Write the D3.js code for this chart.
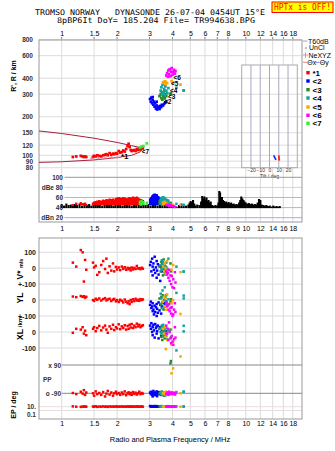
<!DOCTYPE html>
<html><head><meta charset="utf-8">
<script src="https://cdn.jsdelivr.net/npm/d3@7"></script>
<style>
body{margin:0;background:#fff}
svg{display:block}
text{font-family:"Liberation Sans",Arial,sans-serif}
.mono{font-family:"DejaVu Sans Mono","Liberation Mono",monospace}
</style>
</head><body><svg id="c" width="335" height="451"></svg>
<script>
// ---------------- data ----------------
const freqTicksTop = [1,1.5,2,3,4,5,6,7,8,10,12,14,16,18];
const freqTicksMid = [1,1.5,2,3,4,5,6,7,8,9,10,12,14,16,18];
const freqGrid = [1,1.5,2,3,4,5,6,7,8,10,12,14,16,18];
const rangeTicks = [80,90,100,120,150,200,300,400,600,800];
const dbTicks = [20,40,60,80,100];
const dbLabels = ["dBn 20","40","60","dBe 80","100"];
const vTicks = [100,0,-100];
const vLabels = ["100","0","+-100"];
const ylTicks = [0,-100];
const ylLabels = ["0","+-100"];
const xlTicks = [0,-100];
const xlLabels = ["0","-100"];
const ppTicks = [90,-90];
const ppLabels = ["x 90","o -90"];
const epTicks = [10,0.1];
const epLabels = ["10.","0.1"];
const tiltTicks = [-20,-10,0,10,20];
const traceNames = ["*1","<2","<3","<4","<5","<6","<7"];
const traceColors = ["#ff0000","#0000ff","#268a26","#14a3a3","#ffa500","#ff00ff","#33ee33"];

// echo rows: [freq MHz, R' km, amplitude dBe, V* m/s, YL km, XL km, PP deg, EP deg]
const trace1 = [
 [1.15,97,47,35,22,-5,-88,12],[1.20,98,50,10,18,20,-95,10],[1.27,99,51,114,25,15,-80,9],
 [1.30,98,49,100,20,30,-92,11],[1.32,97,48,-84,24,-10,-70,10],[1.34,98,50,52,15,8,-100,12],
 [1.36,97,47,-10,20,-20,-85,10],[1.48,97,50,35,0,20,-90,11],[1.50,99,52,5,-5,30,-105,10],
 [1.53,98,53,15,8,5,-78,13],[1.56,100,54,-42,2,25,-95,9],[1.60,99,55,-25,10,38,-88,11],
 [1.64,98,54,20,-3,10,-100,10],[1.68,100,56,45,6,28,-82,12],[1.72,101,55,-5,12,40,-110,10],
 [1.75,102,57,60,-2,15,-92,11],[1.78,100,56,-30,4,-5,-75,9],[1.82,104,58,12,8,35,-98,12],
 [1.86,101,57,-15,-6,20,-85,10],[1.90,103,58,30,3,45,-105,11],[1.93,102,56,-20,7,12,-90,10],
 [1.97,104,59,8,-8,30,-80,12],[2.00,103,60,-8,0,22,-95,10],[2.04,108,61,5,-12,48,-88,11],
 [2.08,105,60,-12,2,18,-100,10],[2.12,106,59,10,-5,35,-85,12],[2.16,109,61,-4,-15,25,-95,10],
 [2.20,107,60,6,3,42,-78,11],[2.24,112,59,-10,-10,15,-102,10],[2.28,118,58,2,-20,38,-90,12],
 [2.31,123,60,-6,-8,20,-84,10],[2.34,116,61,0,-25,45,-96,11],[2.37,110,59,-14,0,28,-88,10],
 [2.40,108,60,4,-12,50,-100,12],[2.44,109,62,-8,5,25,-82,10],[2.48,110,61,2,-6,40,-94,11],
 [2.52,108,60,-5,8,30,-86,10],[2.56,112,62,14,-3,52,-98,12],[2.60,110,60,-2,2,35,-90,10],
 [2.64,113,58,0,-5,45,-80,11],[2.68,111,57,-6,6,30,-95,10],[2.72,114,56,3,0,38,-88,12],
 [2.76,113,55,-3,4,42,-92,10]
];
const trace2 = [
 [3.02,275,58,20,-30,40,-85,15],[3.05,262,60,40,-10,20,-95,12],[3.07,282,61,-20,-50,55,-80,10],
 [3.10,255,63,60,-40,0,-100,14],[3.12,270,65,10,-70,30,-90,11],[3.12,285,62,-45,-20,-20,-110,13],
 [3.15,248,66,30,-60,45,-75,10],[3.17,262,67,-10,-90,10,-95,12],[3.20,240,68,72,-35,-35,-88,15],
 [3.22,255,66,-30,-75,50,-102,10],[3.25,232,65,5,-45,25,-85,12],[3.28,245,67,-60,-100,-10,-95,11],
 [3.28,262,64,45,-25,35,-78,14],[3.30,228,64,-15,-55,5,-108,10],[3.33,240,63,25,-80,40,-90,12],
 [3.36,235,62,-40,-15,-40,-82,11],[3.40,230,60,15,-65,20,-96,13],[3.43,243,59,-80,-30,30,-88,10],
 [3.47,238,58,8,-85,-25,-100,12],[3.50,248,56,-20,-40,15,-92,11],[3.55,245,55,35,-50,0,-86,10],
 [3.60,252,53,-5,-20,10,-94,12],[3.65,258,52,12,-35,-15,-90,11],[3.70,262,50,-25,-10,5,-88,10]
];
const trace3 = [
 [3.40,290,55,10,10,20,-90,12],[3.45,300,57,-20,-30,0,-85,10],[3.48,280,58,40,20,-30,-95,14],
 [3.50,310,56,0,-50,40,-80,11],[3.52,272,57,25,-15,-50,-100,12],[3.55,295,58,-45,30,10,-90,10],
 [3.58,285,56,55,-60,-20,-88,13],[3.60,315,55,-10,0,30,-105,10],[3.63,278,54,15,-40,-40,-92,12],
 [3.66,300,53,-30,15,5,-84,11],[3.70,290,52,5,-20,-25,-96,10],[3.90,300,52,30,-10,15,100,12],
 [3.92,305,51,-20,5,-35,115,10]
];
const trace4 = [
 [3.45,320,58,20,40,20,-88,12],[3.48,340,60,-10,10,-10,-95,10],[3.50,300,62,50,-20,30,-80,14],
 [3.53,355,61,0,60,0,-100,11],[3.56,310,63,30,-50,45,-90,13],[3.60,330,62,-25,20,-30,-85,10],
 [3.63,295,60,15,80,15,-92,12],[3.66,345,59,-40,-5,-20,-104,11],[3.70,320,58,35,30,25,-86,10],
 [3.75,305,57,-5,-35,-45,-96,12],[3.80,335,56,60,5,10,-90,11],[4.20,337,50,10,45,-115,-82,12],
 [4.60,321,48,-21,28,39,-80,12],[4.60,321,47,-21,10,4,-80,10]
];
const trace5 = [
 [3.55,372,52,10,-10,20,-90,10],[3.60,368,53,-20,20,-10,-85,12],[3.63,378,54,30,-40,30,-95,11],
 [3.66,362,52,0,10,-30,-80,13],[3.68,375,51,-35,-60,-107,-100,10],[3.74,366,50,45,35,-50,-88,12],
 [3.95,380,49,-10,-20,-80,37,11],[4.03,370,48,20,0,-60,69,10],[4.42,356,47,-25,-87,-153,-90,10]
];
const trace6 = [
 [3.70,420,47,-20,-20,40,-95,12],[3.74,440,48,-40,-40,-10,-85,10],[3.78,410,46,-30,-30,20,-90,14],
 [3.80,460,47,-60,-60,-50,-100,11],[3.83,430,48,-10,-25,60,-80,12],[3.86,470,45,-80,-70,0,-92,10],
 [3.90,415,46,-45,-50,-40,-88,13],[3.93,450,47,-100,-85,-70,-96,11],[3.96,480,45,-50,-45,-25,-84,10],
 [4.00,425,44,-120,-100,-60,-90,12],[4.04,445,45,-70,-90,-80,-94,11],[4.08,465,44,-125,-60,-45,-86,10],
 [4.12,435,43,-25,-20,30,-98,12],[4.15,455,43,-90,-75,-35,-90,11]
];
const trace7 = [
 [2.66,115,54,null,null,null,null,null],[2.72,117,55,null,null,null,null,null],
 [2.78,118,53,null,null,null,null,null],[2.90,124,52,null,null,null,null,null]
];
const traces = [trace1,trace2,trace3,trace4,trace5,trace6,trace7];

// noise / background amplitude [freq, dB]
const noise = [
 [1.00,47],[1.03,44],[1.06,48],[1.09,45],[1.12,46],[1.15,44],[1.18,47],[1.21,45],[1.25,48],[1.29,44],
 [1.33,46],[1.37,45],[1.41,47],[1.45,44],[1.49,46],[1.53,48],[1.57,45],[1.61,47],[1.66,44],[1.71,46],
 [1.76,48],[1.81,45],[1.86,47],[1.91,44],[1.96,46],[2.02,45],[2.08,47],[2.14,44],[2.20,46],[2.26,48],
 [2.33,45],[2.40,44],[2.47,46],[2.54,45],[2.62,47],[2.70,44],[2.78,46],[2.86,45],[2.95,47],[3.04,44],
 [3.13,46],[3.22,45],[3.32,44],[3.42,46],[3.52,44],[3.63,45],[3.74,43],[3.85,45],[3.97,43],[4.09,44],
 [4.21,42],[4.34,45],[4.47,48],[4.60,43],[4.74,44],[4.88,46],[4.95,50],[5.02,53],[5.10,51],[5.17,55],
 [5.25,48],[5.33,44],[5.45,46],[5.60,45],[5.72,52],[5.80,63],[5.88,58],[5.96,62],[6.04,56],[6.12,60],
 [6.20,53],[6.28,55],[6.36,50],[6.45,52],[6.55,45],[6.70,44],[6.85,45],[7.00,44],[7.10,50],[7.18,73],
 [7.25,70],[7.33,58],[7.42,61],[7.52,55],[7.62,53],[7.72,50],[7.83,52],[7.95,49],[8.07,51],[8.20,48],
 [8.33,50],[8.47,47],[8.60,48],[8.75,46],[8.90,47],[9.05,46],[9.20,50],[9.33,55],[9.45,62],[9.58,58],
 [9.72,55],[9.85,52],[10.0,50],[10.2,48],[10.4,49],[10.6,47],[10.8,48],[11.0,46],[11.2,47],[11.4,46],
 [11.6,50],[11.8,57],[12.0,55],[12.2,46],[12.45,45],[12.7,44],[12.95,45],[13.2,43],[13.5,44],[13.8,42],
 [14.1,44],[14.4,42],[14.7,43],[15.0,42],[15.3,43]
];
const noiseFloor = 39;

// model profile curves [freq, R']
const curveUpper = [[0.753,155],[1.0,148],[1.5,136],[2.0,126],[2.4,119],[2.66,115]];
const curveLower = [[0.753,88],[1.0,89],[1.5,92],[2.0,96],[2.4,100],[2.66,106],[2.78,116]];
// NeXYZ marks
const neXYZ = [[1.45,95],[1.58,95],[1.72,95.5],[1.86,96],[2.0,96.5]];
// tilt arrows [tilt deg, R' km]
const thetaX = [[10,100],[10.6,91]];
const thetaY = [[4.5,100],[7,92]];
// trace labels [text, freq, R']
const traceLabels = [["*1",2.1,97.5],["<7",2.72,108],["<2",3.59,262],["<3",3.78,290],["<4",3.88,320],["<5",3.92,366],["<6",4.05,407]];

// ---------------- layout ----------------
const svg = d3.select("#c");
const L = 39, Rt = 302;
const fx = d3.scaleLog().domain([0.753, 20.2]).range([L, Rt]);
const ry = d3.scaleLog().domain([100, 800]).range([155.3, 39.7]);
const dy = d3.scaleLinear().domain([20, 100]).range([217.7, 177.3]);
const vy = d3.scaleLinear().domain([-100, 100]).range([284.1, 252.3]);
const yly = d3.scaleLinear().domain([-100, 100]).range([316, 284.1]);
const xly = d3.scaleLinear().domain([-100, 100]).range([348, 316]);
const ppy = d3.scaleLinear().domain([-90, 90]).range([393.3, 365]);
const epy = d3.scaleLog().domain([0.1, 10]).range([414.3, 406.7]);
const tx = d3.scaleLinear().domain([-30, 30]).range([241.7, 297.3]);

const grid = svg.append("g");
const GRID = "#dcdcdc";
freqGrid.forEach(f => {
  grid.append("line").attr("x1", fx(f)).attr("x2", fx(f)).attr("y1", 37).attr("y2", 177).attr("stroke", GRID);
  grid.append("line").attr("x1", fx(f)).attr("x2", fx(f)).attr("y1", 177).attr("y2", 222).attr("stroke", GRID);
  grid.append("line").attr("x1", fx(f)).attr("x2", fx(f)).attr("y1", 238).attr("y2", 419).attr("stroke", GRID);
  grid.append("line").attr("x1", fx(f)).attr("x2", fx(f)).attr("y1", 37).attr("y2", 40).attr("stroke", "#888");
});
svg.append("rect").attr("x", tx(-30)).attr("y", 65).attr("width", tx(30) - tx(-30)).attr("height", 102.7).attr("fill", "#fff");
rangeTicks.forEach(r => {
  svg.append("line").attr("x1", L).attr("x2", Rt).attr("y1", ry(r)).attr("y2", ry(r)).attr("stroke", GRID);
});
tiltTicks.forEach(t => {
  svg.append("line").attr("x1", tx(t)).attr("x2", tx(t)).attr("y1", 65).attr("y2", 167.7).attr("stroke", "#a8a8c4");
});
svg.append("rect").attr("x", tx(-30)).attr("y", 65).attr("width", tx(30) - tx(-30)).attr("height", 102.7)
  .attr("fill", "none").attr("stroke", "#aaa");
const tAxis = svg.append("g").attr("transform", "translate(0,167.7)")
  .call(d3.axisBottom(tx).tickValues(tiltTicks).tickSize(0).tickPadding(0.8));
tAxis.select(".domain").remove();
tAxis.selectAll("text").attr("font-size", 5).attr("fill", "#333");
svg.append("text").attr("x", tx(0)).attr("y", 177.8).attr("text-anchor", "middle").attr("font-size", 5).attr("fill", "#333").text("Tilt / deg");

const dbCol = {20:"#aaaaee",40:"#b8b8b8",60:"#b8b8b8",80:"#d4d4d4",100:"#999"};
dbTicks.forEach(d => {
  svg.append("line").attr("x1", 64.5).attr("x2", Rt).attr("y1", dy(d)).attr("y2", dy(d)).attr("stroke", dbCol[d]);
});
vTicks.forEach(v => svg.append("line").attr("x1", L).attr("x2", Rt).attr("y1", vy(v)).attr("y2", vy(v)).attr("stroke", GRID));
ylTicks.forEach(v => svg.append("line").attr("x1", L).attr("x2", Rt).attr("y1", yly(v)).attr("y2", yly(v)).attr("stroke", GRID));
xlTicks.forEach(v => svg.append("line").attr("x1", L).attr("x2", Rt).attr("y1", xly(v)).attr("y2", xly(v)).attr("stroke", GRID));
ppTicks.forEach(v => svg.append("line").attr("x1", 62).attr("x2", Rt).attr("y1", ppy(v)).attr("y2", ppy(v)).attr("stroke", "#888"));
[10,1].forEach(v => svg.append("line").attr("x1", L).attr("x2", Rt).attr("y1", epy(v)).attr("y2", epy(v)).attr("stroke", "#e6dede"));

svg.append("rect").attr("x", L).attr("y", 40).attr("width", Rt - L).attr("height", 182).attr("fill", "none").attr("stroke", "#999");
svg.append("rect").attr("x", L).attr("y", 238).attr("width", Rt - L).attr("height", 181).attr("fill", "none").attr("stroke", "#999");

// ---------- top panel content ----------
const line = d3.line().x(d => fx(d[0])).y(d => ry(d[1]));
svg.append("path").attr("d", line(curveUpper)).attr("fill", "none").attr("stroke", "#a8203c").attr("stroke-width", 1);
svg.append("path").attr("d", line(curveLower)).attr("fill", "none").attr("stroke", "#a8203c").attr("stroke-width", 1);

const S = 2.7;
traces.forEach((tr, i) => {
  const g = svg.append("g").attr("fill", traceColors[i]);
  tr.forEach(e => {
    g.append("rect").attr("x", fx(e[0]) - S/2).attr("y", ry(e[1]) - S/2).attr("width", S).attr("height", S);
  });
});
const nx = svg.append("g").attr("stroke", "#e880a8").attr("stroke-width", 0.9);
neXYZ.forEach(p => {
  const x = fx(p[0]), y = ry(p[1]);
  nx.append("line").attr("x1", x - 1.6).attr("x2", x + 1.6).attr("y1", y).attr("y2", y);
  nx.append("line").attr("x1", x).attr("x2", x).attr("y1", y - 1.6).attr("y2", y + 1.6);
});
traceLabels.forEach(t => {
  svg.append("text").attr("x", fx(t[1])).attr("y", ry(t[2]) + 2.5).attr("font-size", t[0] === "*1" ? 8 : 6.5)
    .attr("font-weight", "bold").attr("fill", "#000").text(t[0]);
});
const tl = d3.line().x(d => tx(d[0])).y(d => ry(d[1]));
svg.append("path").attr("d", tl(thetaY)).attr("stroke", "#2030ff").attr("stroke-width", 1.8).attr("fill", "none");
svg.append("path").attr("d", tl(thetaX)).attr("stroke", "#ff2020").attr("stroke-width", 1.8).attr("fill", "none");

// ---------- dBe panel ----------
const nz = svg.append("g").attr("stroke", "#000").attr("stroke-width", 2.1);
noise.forEach(n => {
  nz.append("line").attr("x1", fx(n[0])).attr("x2", fx(n[0])).attr("y1", dy(noiseFloor)).attr("y2", dy(n[1]));
});
traces.forEach((tr, i) => {
  const g = svg.append("g").attr("fill", traceColors[i]);
  tr.forEach(e => {
    g.append("rect").attr("x", fx(e[0]) - 1.2).attr("y", dy(e[2])).attr("width", 2.4).attr("height", Math.max(dy(45) - dy(e[2]), 2));
  });
});

// ---------- lower panel ----------
const s2 = 2.5;
const lowScales = [[3, vy],[4, yly],[5, xly],[6, ppy],[7, epy]];
traces.forEach((tr, i) => {
  const g = svg.append("g").attr("fill", traceColors[i]);
  tr.forEach(e => {
    lowScales.forEach(([k, sc]) => {
      if (e[k] === null) return;
      g.append("rect").attr("x", fx(e[0]) - s2/2).attr("y", sc(e[k]) - s2/2).attr("width", s2).attr("height", s2);
    });
  });
});

// ---------- axes ----------
function styleAxis(g, size, fill, weight) {
  g.select(".domain").remove();
  g.selectAll("line").remove();
  g.selectAll("text").attr("font-size", size).attr("fill", fill).attr("font-weight", weight || "normal")
    .attr("font-family", "Liberation Sans, Arial, sans-serif");
}
const fmt = d => String(d);
styleAxis(svg.append("g").attr("transform", "translate(0,40)")
  .call(d3.axisTop(fx).tickValues(freqTicksTop).tickFormat(fmt).tickSize(0).tickPadding(4)), 7, "#000");
styleAxis(svg.append("g").attr("transform", "translate(0,222)")
  .call(d3.axisBottom(fx).tickValues(freqTicksMid).tickFormat(fmt).tickSize(0).tickPadding(4)), 7, "#000");
styleAxis(svg.append("g").attr("transform", "translate(0,419)")
  .call(d3.axisBottom(fx).tickValues(freqTicksTop).tickFormat(fmt).tickSize(0).tickPadding(2)), 7, "#000");
styleAxis(svg.append("g").attr("transform", "translate(39,0)")
  .call(d3.axisLeft(ry).tickValues(rangeTicks).tickFormat(fmt).tickSize(0).tickPadding(6)), 6.5, "#333", "bold");
styleAxis(svg.append("g").attr("transform", "translate(64,0)")
  .call(d3.axisLeft(dy).tickValues(dbTicks).tickFormat((d, i) => dbLabels[i]).tickSize(0).tickPadding(1)), 6.5, "#333", "bold");
styleAxis(svg.append("g").attr("transform", "translate(39,0)")
  .call(d3.axisLeft(vy).tickValues(vTicks).tickFormat((d, i) => vLabels[i]).tickSize(0).tickPadding(3)), 7, "#222", "bold");
styleAxis(svg.append("g").attr("transform", "translate(39,0)")
  .call(d3.axisLeft(yly).tickValues(ylTicks).tickFormat((d, i) => ylLabels[i]).tickSize(0).tickPadding(3)), 7, "#222", "bold");
styleAxis(svg.append("g").attr("transform", "translate(39,0)")
  .call(d3.axisLeft(xly).tickValues(xlTicks).tickFormat((d, i) => xlLabels[i]).tickSize(0).tickPadding(3)), 7, "#222", "bold");
styleAxis(svg.append("g").attr("transform", "translate(62,0)")
  .call(d3.axisLeft(ppy).tickValues(ppTicks).tickFormat((d, i) => ppLabels[i]).tickSize(0).tickPadding(1)), 6.5, "#333", "bold");
styleAxis(svg.append("g").attr("transform", "translate(39,0)")
  .call(d3.axisLeft(epy).tickValues(epTicks).tickFormat((d, i) => epLabels[i]).tickSize(0).tickPadding(3)), 6.5, "#333", "bold");
svg.append("text").attr("x", 43).attr("y", 381.5).attr("font-size", 6.5).attr("font-weight", "bold").attr("fill", "#333").text("PP");

function vText(x, y, txt, size) {
  return svg.append("text").attr("transform", `translate(${x},${y}) rotate(-90)`).attr("text-anchor", "middle")
    .attr("font-size", size).attr("font-weight", "bold").attr("fill", "#000").text(txt);
}
vText(16, 76, "R', R / km", 7);
const vs = svg.append("text").attr("transform", "translate(23,269) rotate(-90)").attr("text-anchor", "middle")
  .attr("font-weight", "bold").attr("fill", "#000");
vs.append("tspan").attr("font-size", 8.5).text("V* ");
vs.append("tspan").attr("font-size", 5.5).text("m/s");
vText(23, 298, "YL", 8.5);
vText(22, 322, "/km", 6);
vText(23, 334.5, "XL", 8.5);
vText(16, 405, "EP / deg", 7);
svg.append("text").attr("x", 170).attr("y", 441.5).attr("text-anchor", "middle").attr("font-size", 7.5).attr("fill", "#000")
  .text("Radio and Plasma Frequency / MHz");

// title
svg.append("text").attr("class", "mono").attr("x", 35).attr("y", 15).attr("font-size", 7.8)
  .attr("textLength", 230).attr("lengthAdjust", "spacingAndGlyphs").style("white-space", "pre")
  .text("TROMSO NORWAY   DYNASONDE 26-07-04 0454UT 15°E");
svg.append("text").attr("class", "mono").attr("x", 57).attr("y", 23.3).attr("font-size", 7.8)
  .attr("textLength", 198).attr("lengthAdjust", "spacingAndGlyphs").style("white-space", "pre")
  .text("8pBP6It DoY= 185.204 File= TR994638.BPG");
svg.append("rect").attr("x", 272).attr("y", 2).attr("width", 61).attr("height", 10.5).attr("fill", "#ffff00").attr("stroke", "#ff0000");
svg.append("text").attr("class", "mono").attr("x", 274).attr("y", 10.4).attr("font-size", 8).attr("fill", "#ff0000")
  .attr("textLength", 57).attr("lengthAdjust", "spacingAndGlyphs").style("white-space", "pre").text("HPTx is OFF!");

// legend
const lg = svg.append("g");
lg.append("line").attr("x1", 303).attr("x2", 307.5).attr("y1", 41).attr("y2", 41).attr("stroke", "#aaa");
lg.append("text").attr("x", 308).attr("y", 43.5).attr("font-size", 7).text("T60dB");
lg.append("rect").attr("x", 305.5).attr("y", 47.5).attr("width", 1).attr("height", 1).attr("fill", "#000");
lg.append("text").attr("x", 309).attr("y", 50.3).attr("font-size", 7).text("UnCl");
lg.append("line").attr("x1", 303).attr("x2", 308).attr("y1", 55).attr("y2", 55).attr("stroke", "#f080a8");
lg.append("line").attr("x1", 305.5).attr("x2", 305.5).attr("y1", 52.5).attr("y2", 57.5).attr("stroke", "#f080a8");
lg.append("text").attr("x", 308.5).attr("y", 57.5).attr("font-size", 7).text("NeXYZ");
lg.append("line").attr("x1", 303).attr("x2", 307).attr("y1", 62.3).attr("y2", 62.3).attr("stroke", "#f08080");
lg.append("text").attr("x", 307.3).attr("y", 64.8).attr("font-size", 7).text("Θx");
lg.append("line").attr("x1", 315.5).attr("x2", 319.5).attr("y1", 62.3).attr("y2", 62.3).attr("stroke", "#8080f0");
lg.append("text").attr("x", 319.8).attr("y", 64.8).attr("font-size", 7).text("Θy");
const legY = [72.7,81,89.7,98,107,115.3,123.3];
traceNames.forEach((n, i) => {
  lg.append("rect").attr("x", 306.3).attr("y", legY[i] - 1.7).attr("width", 3.4).attr("height", 3.4).attr("fill", traceColors[i]);
  lg.append("text").attr("x", 312.5).attr("y", legY[i] + 2.8).attr("font-size", 8).attr("font-weight", "bold").text(n);
});
</script></body></html>
